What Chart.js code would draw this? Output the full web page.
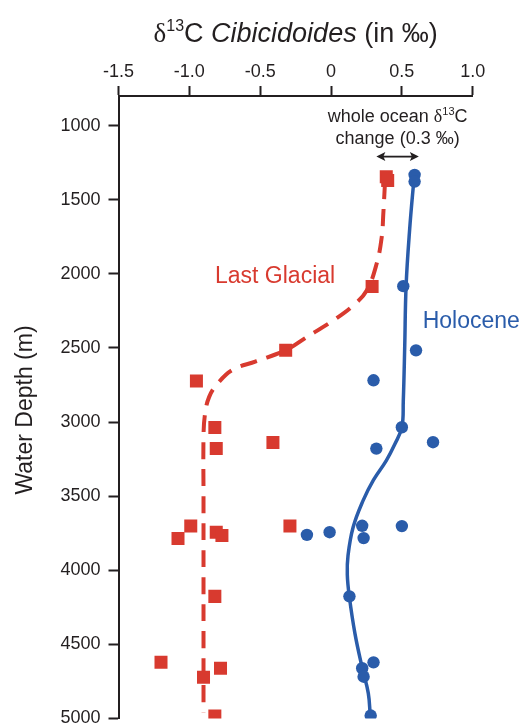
<!DOCTYPE html>
<html>
<head>
<meta charset="utf-8">
<title>d13C Cibicidoides depth profile</title>
<script src="https://cdn.jsdelivr.net/npm/chart.js@4.4.1/dist/chart.umd.min.js"></script>
<style>
  html, body { margin: 0; padding: 0; background: #fff; }
  #wrap { width: 525px; height: 728px; }
</style>
</head>
<body>
<div id="wrap"><canvas id="profile"></canvas></div>
<script>
// axis ticks
const deltaTicks = [-1.5, -1.0, -0.5, 0, 0.5, 1.0];
const depthTicks = [1000, 1500, 2000, 2500, 3000, 3500, 4000, 4500, 5000];

// Last Glacial samples (d13C, water depth m)
const glacialDelta = [0.39, 0.40, 0.29, -0.32, -0.95, -0.82, -0.81, -0.41, -0.99, -1.08, -0.81, -0.77, -0.29, -0.82, -1.20, -0.78, -0.90, -0.82];
const glacialDepth = [1345, 1370, 2085, 2516, 2723, 3037, 3179, 3138, 3702, 3785, 3743, 3765, 3702, 4176, 4621, 4661, 4722, 4983];

// Holocene samples
const holoceneDelta = [0.59, 0.59, 0.51, 0.60, 0.30, 0.50, 0.32, 0.72, -0.17, -0.01, 0.22, 0.23, 0.50, 0.13, 0.30, 0.22, 0.23, 0.28];
const holoceneDepth = [1332, 1377, 2083, 2516, 2718, 3035, 3179, 3136, 3761, 3743, 3700, 3783, 3702, 4176, 4621, 4661, 4718, 4980];

// hand-drawn trend lines
const glacialCurveDelta = [0.381, 0.369, 0.358, 0.322, 0.252, 0.157, 0.016, -0.172, -0.322, -0.53, -0.70, -0.80, -0.86, -0.89, -0.90, -0.90, -0.90, -0.90, -0.90];
const glacialCurveDepth = [1382, 1595, 1752, 1932, 2112, 2213, 2314, 2427, 2516, 2590, 2650, 2740, 2830, 2950, 3100, 3500, 4000, 4500, 4960];
const holoceneCurveDelta = [0.588, 0.555, 0.53, 0.52, 0.51, 0.50, 0.45, 0.39, 0.30, 0.226, 0.156, 0.12, 0.115, 0.129, 0.169, 0.221, 0.263, 0.277];
const holoceneCurveDepth = [1330, 1700, 2080, 2500, 2860, 3035, 3150, 3260, 3390, 3530, 3710, 3900, 4030, 4176, 4427, 4661, 4829, 4980];

// whole ocean shift arrow (0.3 permil)
const shiftFrom = 0.32;
const shiftTo = 0.62;

const RED = "#d83a2f";
const BLUE = "#2a5caa";
const INK = "#231f20";
const SANS = "'Liberation Sans', Arial, sans-serif";
const SERIF = "'Liberation Serif', 'Times New Roman', serif";

function pairs(xs, ys) {
  return xs.map((x, i) => ({ x: x, y: ys[i] }));
}

// draws a run of differently styled text pieces on one baseline
function drawRuns(ctx, runs, cx, baseline) {
  let total = 0;
  runs.forEach((r) => {
    ctx.font = r.font;
    r.w = ctx.measureText(r.text).width;
    total += r.w;
  });
  let x = cx - total / 2;
  ctx.textAlign = "left";
  ctx.textBaseline = "alphabetic";
  runs.forEach((r) => {
    ctx.font = r.font;
    ctx.fillText(r.text, x, baseline - (r.rise || 0));
    x += r.w;
  });
}

const labelsPlugin = {
  id: "profileLabels",
  afterDraw(chart) {
    const ctx = chart.ctx;
    const xs = chart.scales.x;
    const ys = chart.scales.y;
    const area = chart.chartArea;
    ctx.save();
    ctx.fillStyle = INK;

    // axis title on top
    drawRuns(ctx, [
      { text: "δ", font: "27px " + SERIF },
      { text: "13", font: "16px " + SANS, rise: 11 },
      { text: "C ", font: "27px " + SANS },
      { text: "Cibicidoides", font: "italic 27px " + SANS },
      { text: " (in ‰)", font: "27px " + SANS }
    ], (area.left + area.right) / 2, 42);

    // depth axis title
    ctx.save();
    ctx.translate(26, 410);
    ctx.rotate(-Math.PI / 2);
    ctx.font = "23px " + SANS;
    ctx.textAlign = "center";
    ctx.textBaseline = "middle";
    ctx.fillText("Water Depth (m)", 0, 0);
    ctx.restore();

    // whole ocean shift note
    const noteX = xs.getPixelForValue((shiftFrom + shiftTo) / 2);
    drawRuns(ctx, [
      { text: "whole ocean ", font: "18px " + SANS },
      { text: "δ", font: "18px " + SERIF },
      { text: "13", font: "11px " + SANS, rise: 7 },
      { text: "C", font: "18px " + SANS }
    ], noteX, ys.getPixelForValue(1000) - 3.5);
    drawRuns(ctx, [
      { text: "change (0.3 ‰)", font: "18px " + SANS }
    ], noteX, ys.getPixelForValue(1000) + 18);

    // double headed arrow
    const ay = ys.getPixelForValue(1209);
    const a0 = xs.getPixelForValue(shiftFrom);
    const a1 = xs.getPixelForValue(shiftTo);
    ctx.strokeStyle = INK;
    ctx.lineWidth = 1.8;
    ctx.beginPath();
    ctx.moveTo(a0 + 6, ay);
    ctx.lineTo(a1 - 6, ay);
    ctx.stroke();
    ctx.beginPath();
    ctx.moveTo(a0, ay);
    ctx.lineTo(a0 + 9, ay - 4.5);
    ctx.lineTo(a0 + 7, ay);
    ctx.lineTo(a0 + 9, ay + 4.5);
    ctx.closePath();
    ctx.moveTo(a1, ay);
    ctx.lineTo(a1 - 9, ay - 4.5);
    ctx.lineTo(a1 - 7, ay);
    ctx.lineTo(a1 - 9, ay + 4.5);
    ctx.closePath();
    ctx.fill();

    // series labels
    ctx.font = "23px " + SANS;
    ctx.textBaseline = "middle";
    ctx.fillStyle = RED;
    ctx.textAlign = "center";
    ctx.fillText("Last Glacial", xs.getPixelForValue(-0.395), ys.getPixelForValue(2017));
    ctx.fillStyle = BLUE;
    ctx.textAlign = "left";
    ctx.fillText("Holocene", xs.getPixelForValue(0.647), ys.getPixelForValue(2325));
    ctx.restore();
  }
};

const tickFont = { family: SANS, size: 18 };

// keep label overhang from shrinking the plot
function noScalePadding(scale) {
  scale.paddingTop = 0;
  scale.paddingBottom = 0;
  scale.paddingLeft = 0;
  scale.paddingRight = 0;
}

new Chart(document.getElementById("profile"), {
  type: "scatter",
  data: {
    datasets: [
      {
        label: "Holocene samples",
        data: pairs(holoceneDelta, holoceneDepth),
        pointStyle: "circle",
        pointRadius: 6.2,
        pointBorderWidth: 0,
        backgroundColor: BLUE,
        borderColor: BLUE
      },
      {
        label: "Last Glacial samples",
        data: pairs(glacialDelta, glacialDepth),
        pointStyle: "rect",
        pointRadius: 9.2,
        pointBorderWidth: 0,
        backgroundColor: RED,
        borderColor: RED
      },
      {
        label: "Holocene",
        data: pairs(holoceneCurveDelta, holoceneCurveDepth),
        showLine: true,
        pointRadius: 0,
        borderColor: BLUE,
        borderWidth: 3.5,
        tension: 0.4
      },
      {
        label: "Last Glacial",
        data: pairs(glacialCurveDelta, glacialCurveDepth),
        showLine: true,
        pointRadius: 0,
        borderColor: RED,
        borderWidth: 4,
        borderDash: [17, 10],
        tension: 0.4
      }
    ]
  },
  options: {
    responsive: true,
    maintainAspectRatio: false,
    animation: false,
    events: [],
    layout: {
      padding: { left: 0, top: 0, right: 52.3, bottom: 9.5 }
    },
    plugins: {
      legend: { display: false },
      tooltip: { enabled: false }
    },
    scales: {
      x: {
        type: "linear",
        position: "top",
        min: -1.5,
        max: 1.0,
        afterBuildTicks: (scale) => {
          scale.ticks = deltaTicks.map((v) => ({ value: v }));
        },
        afterFit: (scale) => {
          scale.height = 96;
          noScalePadding(scale);
        },
        ticks: {
          font: tickFont,
          color: INK,
          padding: 3,
          maxRotation: 0,
          callback: (v) => (v === 0 ? "0" : v.toFixed(1))
        },
        grid: {
          drawOnChartArea: false,
          drawTicks: true,
          tickLength: 10,
          tickWidth: 2,
          tickColor: INK
        },
        border: { display: true, color: INK, width: 2 }
      },
      y: {
        type: "linear",
        reverse: true,
        min: 800,
        max: 5000,
        afterBuildTicks: (scale) => {
          scale.ticks = depthTicks.map((v) => ({ value: v }));
        },
        afterFit: (scale) => {
          scale.width = 118.5;
          noScalePadding(scale);
        },
        ticks: {
          font: tickFont,
          color: INK,
          padding: 8,
          callback: (v) => String(v)
        },
        grid: {
          drawOnChartArea: false,
          drawTicks: true,
          tickLength: 10,
          tickWidth: 2,
          tickColor: INK
        },
        border: { display: true, color: INK, width: 2 }
      }
    }
  },
  plugins: [labelsPlugin]
});
</script>
</body>
</html>
